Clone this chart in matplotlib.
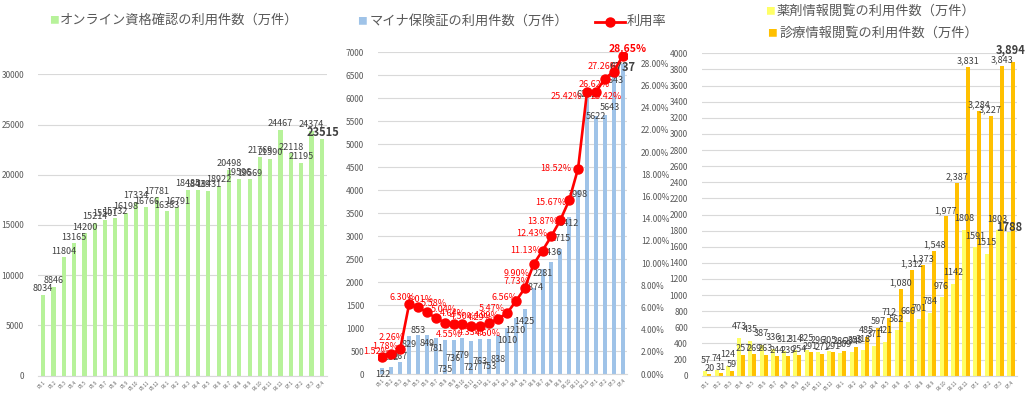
import numpy as np
import matplotlib.pyplot as plt
from matplotlib.lines import Line2D

plt.rcParams['font.family'] = ['Noto Sans CJK JP', 'DejaVu Sans']

# 月 (R5.1 - R7.4)
months = ['R5.1', 'R5.2', 'R5.3', 'R5.4', 'R5.5', 'R5.6', 'R5.7', 'R5.8', 'R5.9', 'R5.10', 'R5.11', 'R5.12',
          'R6.1', 'R6.2', 'R6.3', 'R6.4', 'R6.5', 'R6.6', 'R6.7', 'R6.8', 'R6.9', 'R6.10', 'R6.11', 'R6.12',
          'R7.1', 'R7.2', 'R7.3', 'R7.4']

# オンライン資格確認の利用件数（万件）
online = [8034, 8846, 11804, 13165, 14200, 15214, 15501, 15732, 16198, 17334, 16766, 17781,
          16383, 16791, 18485, 18439, 18431, 18922, 20498, 19596, 19569, 21769, 21590, 24467,
          22118, 21195, 24374, 23515]

# マイナ保険証の利用件数（万件）と利用率（%）
myna = [122, 152, 267, 829, 853, 849, 781, 735, 736, 779, 727, 763,
        753, 838, 1010, 1210, 1425, 1874, 2281, 2436, 2715, 3412, 3998, 6222,
        5622, 5643, 6643, 6737]
rate = [1.52, 1.78, 2.26, 6.30, 6.01, 5.58, 5.04, 4.64, 4.55, 4.50, 4.33, 4.29,
        4.60, 4.99, 5.47, 6.56, 7.73, 9.90, 11.13, 12.43, 13.87, 15.67, 18.52, 25.42,
        25.42, 26.62, 27.26, 28.65]

# 薬剤情報閲覧 / 診療情報閲覧の利用件数（万件）
drug = [57, 74, 124, 473, 435, 387, 336, 312, 314, 325, 296, 305,
        286, 294, 318, 371, 421, 562, 666, 701, 784, 976, 1142, 1808,
        1591, 1515, 1803, 1788]
shinryo = [20, 31, 59, 257, 269, 263, 244, 239, 254, 291, 271, 291,
           309, 358, 485, 597, 712, 1080, 1312, 1373, 1548, 1977, 2387, 3831,
           3284, 3227, 3843, 3894]

# ラベル位置の微調整（ピクセル）
myna_lbl_dy = [-6, 10, 5, -9, 4, -9, -10, -29, -18, -17, -27, -23, -27, -24, -13, -12,
               -13, 0, -4, 10, 11, -6, -4, -6, -1, 7, -12, -3]
myna_lbl_dx = [0] * 25 + [5, 0, 0]
rate_lbl_off = [(-6, 6), (-6, 8), (-9, 11), (-7, 7), (2, 8), (7, 9), (8, 9), (8, 9),
                (-5, -11), (0, 8), (0, -7), (0, 9), (-1, -11), (-11, 3), (-15, 5),
                (-11, 4), (-8, 7), (-17, -9), (-17, 0), (-20, 3), (-18, -1), (-18, -2),
                (-22, 0), (-21, -4), (10, -4), (-11, -6), (-11, 5), (5, 7)]

W, H = 1032, 395
TXT = '#595959'
LBL = '#404040'
GRID = '#d9d9d9'
GREEN = '#b7f29a'
BLUE = '#9fc3e8'
YELLOW = '#ffff66'
ORANGE = '#ffc000'

fig = plt.figure(figsize=(W / 100, H / 100), dpi=100)


def box(l, t, r, b):
    return [l / W, 1 - b / H, (r - l) / W, (b - t) / H]


def style(ax, x):
    for s in ['top', 'right', 'left']:
        ax.spines[s].set_visible(False)
    ax.spines['bottom'].set_color(GRID)
    ax.grid(axis='y', color=GRID, lw=0.8)
    ax.set_axisbelow(True)
    ax.set_xlim(-0.5, len(x) - 0.5)
    ax.set_xticks(x)
    ax.set_xticklabels(months, rotation=45, ha='right', rotation_mode='anchor',
                       fontsize=3.2, color=TXT)
    ax.tick_params(axis='x', length=0, pad=3)
    ax.tick_params(axis='y', length=0, labelsize=6, labelcolor=TXT, pad=10)


x = np.arange(len(months))

# ---- パネル1 ----
ax1 = fig.add_axes(box(38, 74.3, 327, 375.7))
style(ax1, x)
ax1.bar(x, online, width=0.4, color=GREEN)
ax1.set_ylim(0, 30000)
ax1.set_yticks(np.arange(0, 30001, 5000))
for i, v in enumerate(online):
    last = i == len(online) - 1
    ax1.annotate(str(v), (i, v), xytext=(1 if last else 0, 7 if last else 6),
                 textcoords='offset pixels', ha='center', va='center',
                 fontsize=8 if last else 6.5, color=LBL,
                 fontweight='bold' if last else 'normal')
fig.text(54 / W, 1 - 20 / H, '■', color=GREEN, fontsize=7, ha='center', va='center')
fig.text(60 / W, 1 - 20 / H, 'オンライン資格確認の利用件数（万件）', color=TXT,
         fontsize=9.5, ha='left', va='center')

# ---- パネル2 ----
ax2 = fig.add_axes(box(378, 52.3, 627, 374))
style(ax2, x)
ax2.bar(x, myna, width=0.45, color=BLUE)
ax2.set_ylim(0, 7000)
ax2.set_yticks(np.arange(0, 7001, 500))
ax2r = ax2.twinx()
for s in ['top', 'right', 'left', 'bottom']:
    ax2r.spines[s].set_visible(False)
ax2r.set_ylim(0, 29)
ax2r.set_yticks(np.arange(0, 28.01, 2))
ax2r.set_yticklabels(['%.2f%%' % t for t in np.arange(0, 28.01, 2)])
ax2r.tick_params(axis='y', length=0, labelsize=6, labelcolor=TXT, pad=10)
ax2r.plot(x, rate, color='#ff0000', lw=1.9, marker='o', ms=6.5, zorder=3)
for i, v in enumerate(myna):
    last = i == len(myna) - 1
    ax2.annotate(str(v), (i, v), xytext=(myna_lbl_dx[i], myna_lbl_dy[i]),
                 textcoords='offset pixels', ha='center', va='center',
                 fontsize=8 if last else 6.5, color=LBL,
                 fontweight='bold' if last else 'normal', zorder=5)
for i, r in enumerate(rate):
    last = i == len(rate) - 1
    ax2r.annotate('%.2f%%' % r, (i, r), xytext=rate_lbl_off[i],
                  textcoords='offset pixels', ha='center', va='center',
                  fontsize=7.5 if last else 6.5, color='#ff0000',
                  fontweight='bold' if last else 'normal', zorder=6)
fig.text(362 / W, 1 - 21.7 / H, '■', color=BLUE, fontsize=7, ha='center', va='center')
fig.text(370 / W, 1 - 21.7 / H, 'マイナ保険証の利用件数（万件）', color=TXT,
         fontsize=9.5, ha='left', va='center')
fig.add_artist(Line2D([595 / W, 625 / W], [1 - 21.7 / H] * 2, color='#ff0000', lw=2))
fig.add_artist(Line2D([610 / W], [1 - 21.7 / H], color='#ff0000', marker='o', ms=6.5))
fig.text(627 / W, 1 - 21.7 / H, '利用率', color=TXT, fontsize=9.5, ha='left', va='center')

# ---- パネル3 ----
ax3 = fig.add_axes(box(701.7, 53.3, 1016.7, 375.7))
style(ax3, x)
bw = 0.36
ax3.bar(x - bw / 2, drug, width=bw, color=YELLOW)
ax3.bar(x + bw / 2, shinryo, width=bw, color=ORANGE)
ax3.set_ylim(0, 4000)
ax3.set_yticks(np.arange(0, 4001, 200))
for i, v in enumerate(drug):
    last = i == len(drug) - 1
    ax3.annotate(str(v), (i - bw / 2, v), xytext=(0, 4 if last else 11),
                 textcoords='offset pixels', ha='center', va='center',
                 fontsize=8 if last else 6.5, color=LBL,
                 fontweight='bold' if last else 'normal')
for i, v in enumerate(shinryo):
    last = i == len(shinryo) - 1
    ax3.annotate('{:,}'.format(v), (i + bw / 2, v), xytext=(-2 if last else 0, 12 if last else 6),
                 textcoords='offset pixels', ha='center', va='center',
                 fontsize=8 if last else 6.5, color=LBL,
                 fontweight='bold' if last else 'normal')
fig.text(770 / W, 1 - 11.7 / H, '■', color=YELLOW, fontsize=7, ha='center', va='center')
fig.text(777 / W, 1 - 11.7 / H, '薬剤情報閲覧の利用件数（万件）', color=TXT,
         fontsize=9.5, ha='left', va='center')
fig.text(772 / W, 1 - 33.3 / H, '■', color=ORANGE, fontsize=7, ha='center', va='center')
fig.text(779 / W, 1 - 33.3 / H, '診療情報閲覧の利用件数（万件）', color=TXT,
         fontsize=9.5, ha='left', va='center')

fig.savefig('out.png', dpi=100)
